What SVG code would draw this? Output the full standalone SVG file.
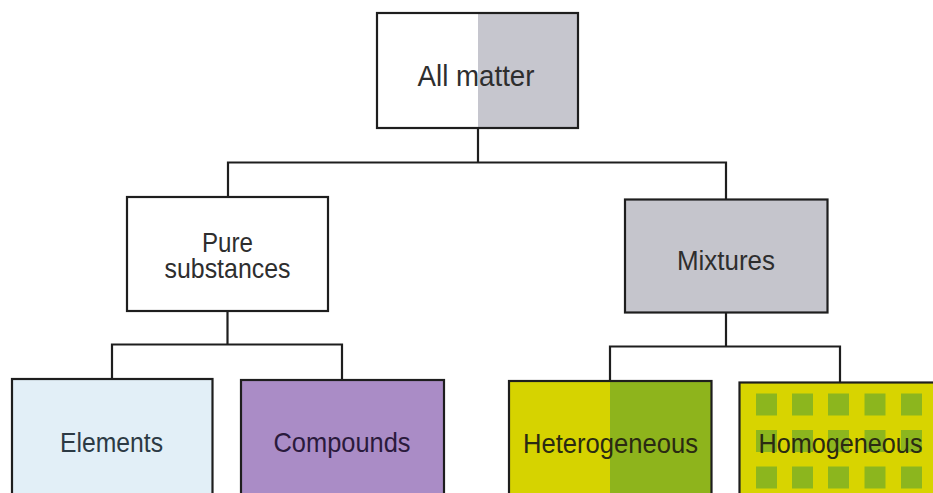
<svg xmlns="http://www.w3.org/2000/svg" width="933" height="493" viewBox="0 0 933 493">
<style>
.box{stroke:#1e1e1e;stroke-width:2.2}
.con{fill:none;stroke:#1e1e1e;stroke-width:2.2}
text{font-family:"Liberation Sans",Arial,sans-serif;font-size:27.5px;text-anchor:middle;fill:#2e2e2e}
.sq{fill:#8cb61e}
</style>
<rect width="933" height="493" fill="#ffffff"/>
<g id="connectors">
<path class="con" d="M478,128 V162.5 M228,197 V162.5 H726 V199.5"/>
<path class="con" d="M227.5,311 V344.5 M112,379 V344.5 H342 V380"/>
<path class="con" d="M726,312.5 V346.5 M610,381 V346.5 H840 V382.5"/>
</g>
<g id="all-matter">
<rect x="377" y="13" width="201" height="115" fill="#ffffff"/>
<rect x="478" y="13" width="100" height="115" fill="#c6c6ce"/>
<rect class="box" x="377" y="13" width="201" height="115" fill="none"/>
<text x="476" y="86" style="font-size:30px" textLength="117" lengthAdjust="spacingAndGlyphs">All matter</text>
</g>
<g id="pure-substances">
<rect class="box" x="127" y="197" width="201" height="114" fill="#ffffff"/>
<text x="227.5" y="252" textLength="51" lengthAdjust="spacingAndGlyphs">Pure</text>
<text x="227.5" y="277.5" textLength="126" lengthAdjust="spacingAndGlyphs">substances</text>
</g>
<g id="mixtures">
<rect class="box" x="625" y="199.5" width="202.5" height="113" fill="#c5c5cc"/>
<text x="726" y="270" textLength="98" lengthAdjust="spacingAndGlyphs">Mixtures</text>
</g>
<g id="elements">
<rect class="box" x="12" y="379" width="200.5" height="125" fill="#e2eff7"/>
<text x="111.5" y="451.5" style="fill:#2c3a44" textLength="103" lengthAdjust="spacingAndGlyphs">Elements</text>
</g>
<g id="compounds">
<rect class="box" x="241" y="380" width="203" height="125" fill="#aa8cc6"/>
<text x="342" y="451.5" style="fill:#2a1a3c" textLength="137" lengthAdjust="spacingAndGlyphs">Compounds</text>
</g>
<g id="heterogeneous">
<rect x="509" y="381" width="202.5" height="125" fill="#d6d300"/>
<rect x="610" y="381" width="101.5" height="125" fill="#8eb41c"/>
<rect class="box" x="509" y="381" width="202.5" height="125" fill="none"/>
<text x="610.5" y="453" style="fill:#2a2a12" textLength="175" lengthAdjust="spacingAndGlyphs">Heterogeneous</text>
</g>
<g id="homogeneous">
<rect class="box" x="739.5" y="382.5" width="210" height="125" fill="#d8d400"/>
<g>
<rect class="sq" x="756" y="393.5" width="21" height="22"/>
<rect class="sq" x="792" y="393.5" width="21" height="22"/>
<rect class="sq" x="828" y="393.5" width="21" height="22"/>
<rect class="sq" x="864.5" y="393.5" width="21" height="22"/>
<rect class="sq" x="901" y="393.5" width="21" height="22"/>
<rect class="sq" x="756" y="430" width="21" height="22"/>
<rect class="sq" x="792" y="430" width="21" height="22"/>
<rect class="sq" x="828" y="430" width="21" height="22"/>
<rect class="sq" x="864.5" y="430" width="21" height="22"/>
<rect class="sq" x="901" y="430" width="21" height="22"/>
<rect class="sq" x="756" y="466.5" width="21" height="22"/>
<rect class="sq" x="792" y="466.5" width="21" height="22"/>
<rect class="sq" x="828" y="466.5" width="21" height="22"/>
<rect class="sq" x="864.5" y="466.5" width="21" height="22"/>
<rect class="sq" x="901" y="466.5" width="21" height="22"/>
</g>
<text x="840.5" y="453" style="fill:#2a2a12" textLength="164" lengthAdjust="spacingAndGlyphs">Homogeneous</text>
</g>
</svg>
